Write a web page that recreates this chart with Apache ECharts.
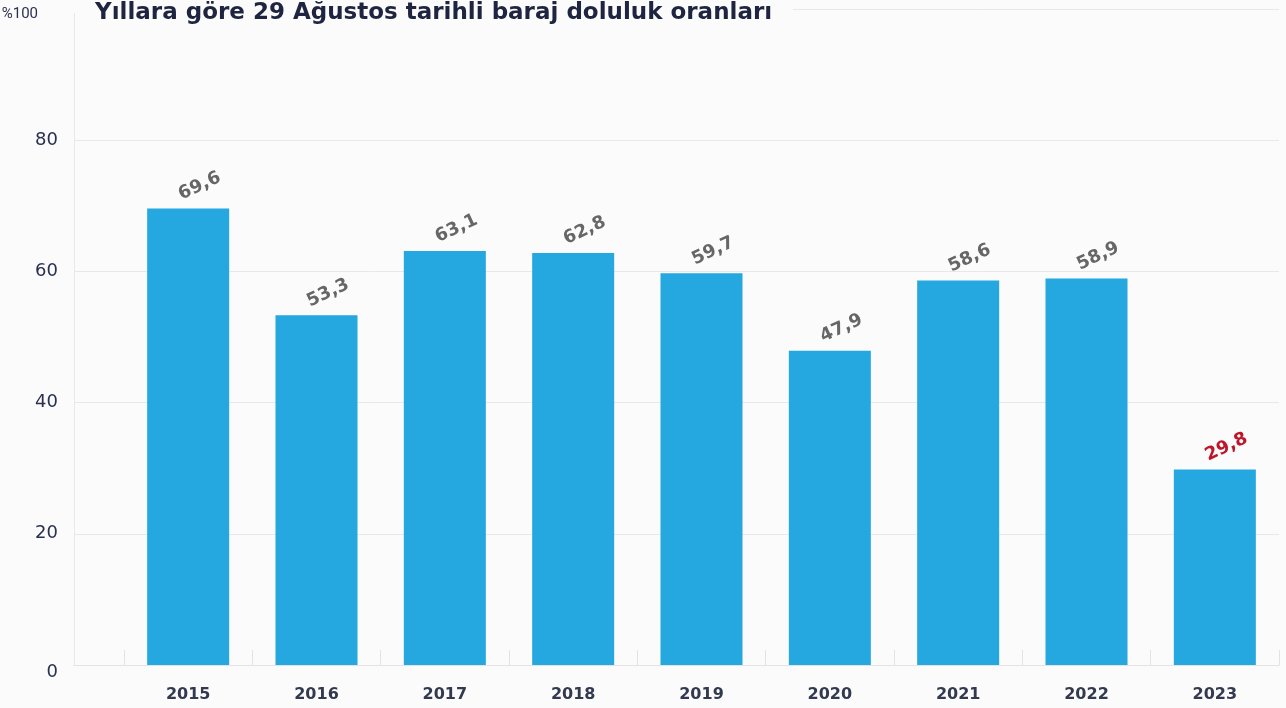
<!DOCTYPE html>
<html><head><meta charset="utf-8">
<script src="https://cdn.jsdelivr.net/npm/echarts@6/dist/echarts.min.js"></script>
<style>html,body{margin:0;padding:0;background:#fbfbfb}#c{width:1286px;height:708px}</style>
</head><body><div id="c"></div>
<script>
const title = 'Yıllara göre 29 Ağustos tarihli baraj doluluk oranları';
const years = ['2015','2016','2017','2018','2019','2020','2021','2022','2023'];
const values = [69.6, 53.3, 63.1, 62.8, 59.7, 47.9, 58.6, 58.9, 29.8];
const highlightYear = '2023';

const chart = echarts.init(document.getElementById('c'));
const fmt = v => String(v).replace('.', ',');
const F = 'DejaVu Sans';
chart.setOption({
  backgroundColor: '#fbfbfb',
  animation: false,
  title: {
    text: title, left: 95, top: 2, padding: 0, z: 10,
    textStyle: {fontFamily: F, fontWeight: 'bold', fontSize: 23, color: '#1f2540'}
  },
  graphic: [{
    type: 'rect', left: 72, top: 0, z: 8,
    shape: {width: 721, height: 13},
    style: {fill: '#fbfbfb'}
  }],
  grid: [
    {left: 124, right: 7, top: 9, bottom: 43, outerBoundsMode: 'none', containLabel: false},
    {left: 74, right: 7, top: 9, bottom: 43, outerBoundsMode: 'none', containLabel: false}
  ],
  xAxis: [
    {type: 'category', gridIndex: 0, data: years,
     axisLine: {show: false},
     axisTick: {show: true, inside: true, length: 15, lineStyle: {color: '#e3e3e3'}},
     axisLabel: {margin: 22, fontFamily: F, fontWeight: 'bold', fontSize: 16, color: '#333a4f'}},
    {type: 'value', gridIndex: 1, min: 0, max: 1, show: true,
     axisLine: {show: true, lineStyle: {color: '#e3e3e3'}}, axisTick: {show: false},
     axisLabel: {show: false}, splitLine: {show: false}}
  ],
  yAxis: [
    {type: 'value', gridIndex: 0, min: 0, max: 100, interval: 20, show: false, splitLine: {show: false}},
    {type: 'value', gridIndex: 1, min: 0, max: 100, interval: 20,
     axisLine: {show: true, lineStyle: {color: '#e8e8e8'}}, axisTick: {show: false},
     splitLine: {lineStyle: {color: '#e8e8e8'}},
     axisLabel: {margin: 16, fontFamily: F, fontSize: 18, color: '#2a3050',
       formatter: v => v === 100 ? '{t|%100}' : (v === 0 ? '{z|0}' : String(v)),
       rich: {
         t: {fontFamily: 'Roboto', fontSize: 15, color: '#2a3050', padding: [11, 20, 0, 0]},
         z: {fontFamily: F, fontSize: 18, color: '#2a3050', padding: [14, 0, 0, 0]}
       }}}
  ],
  series: [{
    type: 'bar', xAxisIndex: 0, yAxisIndex: 0, barWidth: 82,
    data: values.map((v, i) => ({
      value: v,
      label: {color: years[i] === highlightYear ? '#c0142a' : '#666666'}
    })),
    itemStyle: {color: '#25a7df'},
    label: {show: true, position: 'top', rotate: 25, distance: 7, offset: [17, 0],
      fontFamily: F, fontWeight: 'bold', fontSize: 18,
      formatter: p => fmt(p.value)}
  }]
});
</script></body></html>
